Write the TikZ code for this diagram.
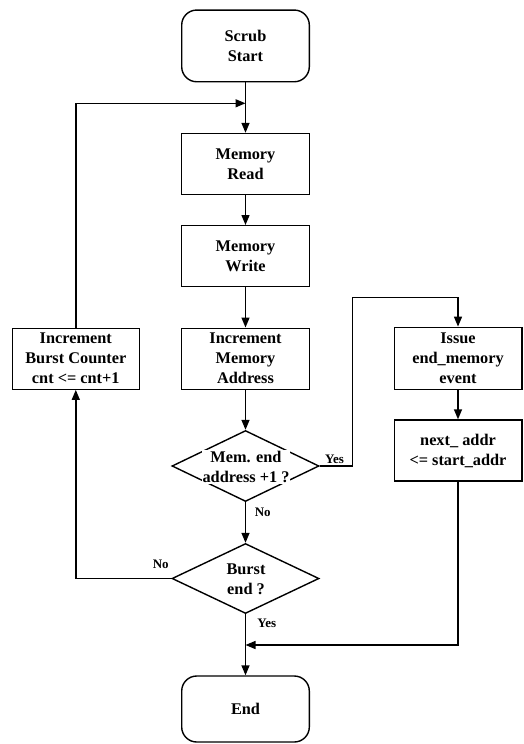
\documentclass[tikz,border=0pt]{standalone}
\usepackage{fontspec}
\setmainfont{Liberation Serif}
\usetikzlibrary{shapes.geometric,arrows.meta}

\begin{document}
\begin{tikzpicture}[x=1pt,y=-1pt,
  every node/.style={font=\bfseries\fontsize{16.3}{20}\selectfont, align=center},
  proc/.style={draw, line width=1.4pt, minimum width=127.6pt, minimum height=61pt, inner sep=0pt},
  term/.style={proc, rounded corners=15pt},
  decide/.style={draw, diamond, line width=1.4pt, minimum width=147pt, minimum height=71pt, inner sep=0pt},
  flow/.style={line width=1.4pt, -{Triangle[length=10pt,width=8pt]}},
  lbl/.style={font=\bfseries\fontsize{13}{15}\selectfont, inner sep=0pt},
]
% canvas
\fill[white] (0,0) rectangle (524,744);
\useasboundingbox (0,0) rectangle (524,744);

% main column
\node[term] (start) at (245.5,45.9) [minimum height=71.7pt] {Scrub\\Start};
\node[proc] (read)  at (245.5,164)   {Memory\\Read};
\node[proc] (write) at (245.5,256.2) {Memory\\Write};
\node[proc] (addr)  at (245.5,358.7) {Increment\\Memory\\Address};

\node[decide] (d1) at (245.5,466) {};
\node[fill=white, inner sep=1pt] (d1txt) at (246,467) {Mem. end\\address +1 ?};

\node[decide, minimum height=70pt] (d2) at (245.5,578.5) {};
\node[inner sep=1pt] (d2txt) at (246,579) {Burst\\end ?};

\node[term, minimum height=66pt] (end) at (245.5,709) {End};

% side boxes
\node[proc, minimum width=127pt] (inc) at (75.8,358.7) {Increment\\Burst Counter\\cnt <= cnt+1};
\node[proc, minimum height=62pt] (issue) at (458,358.3) {Issue\\end\_memory\\event};
\node[proc] (next) at (458,450.5) {next\_ addr\\<= start\_addr};

% helper points
\coordinate (merge) at (245.5,103.3);
\coordinate (yr) at (352.7,466);
\coordinate (yt) at (352.7,297.3);
\coordinate (join) at (245.5,645);

% connectors
\draw[flow] (start) -- (read);
\draw[flow] (inc.north) |- (merge);
\draw[flow] (read) -- (write);
\draw[flow] (write) -- (addr);
\draw[flow] (addr) -- (d1.north);
\draw[flow] (d1.east) -- (yr) -- (yt) -| (issue.north);
\draw[flow] (d1.south) -- (d2.north);
\draw[flow] (d2.west) -| (inc.south);
\draw[flow] (issue) -- (next);
\draw[flow] (next.south) |- (join);
\draw[flow] (d2.south) -- (end.north);

% branch labels
\node[lbl] (lyes1) at (334.5,459.5) {Yes};
\node[lbl] (lno1)  at (262.7,512.7) {No};
\node[lbl] (lno2)  at (160.7,564.3) {No};
\node[lbl] (lyes2) at (266.7,623.3) {Yes};
\end{tikzpicture}
\end{document}
